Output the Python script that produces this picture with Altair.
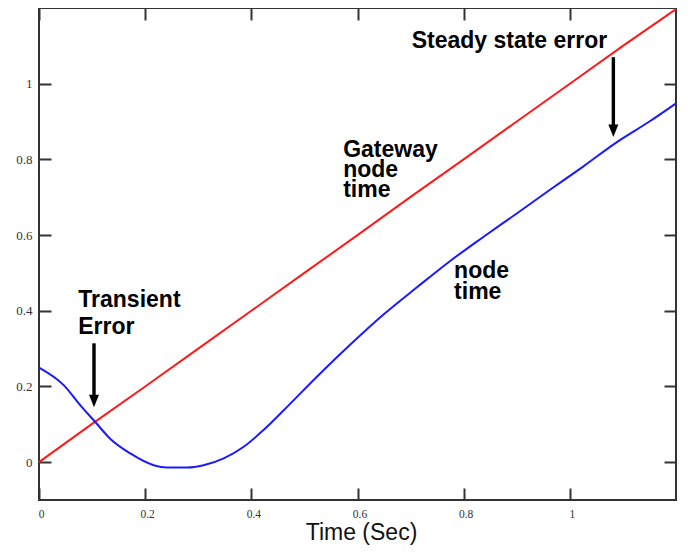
import altair as alt
import pandas as pd

# ---- data ----
red_t = [0.0, 0.1, 0.2, 0.3, 0.4, 0.5, 0.6, 0.7, 0.8, 0.9, 1.0, 1.1, 1.2]
red_v = [0.0, 0.101, 0.2, 0.3, 0.4, 0.5, 0.6, 0.701, 0.8, 0.9, 1.0, 1.1, 1.197]

blue_t = [0.0, 0.047, 0.078, 0.106, 0.134, 0.172, 0.216, 0.241, 0.279, 0.31,
          0.348, 0.385, 0.423, 0.461, 0.523, 0.586, 0.649, 0.712, 0.774, 0.837,
          0.9, 0.962, 1.025, 1.088, 1.15, 1.2]
blue_v = [0.25, 0.203, 0.15, 0.106, 0.062, 0.023, -0.008, -0.014, -0.014, -0.008,
          0.01, 0.04, 0.085, 0.137, 0.225, 0.31, 0.39, 0.462, 0.531, 0.595,
          0.657, 0.719, 0.781, 0.845, 0.900, 0.948]

note_text = ["Transient", "Error", "Gateway", "node", "time", "node", "time",
             "Steady state error"]
note_x = [0.074, 0.074, 0.573, 0.573, 0.573, 0.782, 0.782, 0.702]
note_y = [0.411, 0.339, 0.805, 0.753, 0.700, 0.486, 0.431, 1.093]

arrow_x = [0.1036, 1.082]
arrow_start = [0.314, 1.07]
arrow_tip = [0.145, 0.859]

x_ticks = [0, 0.2, 0.4, 0.6, 0.8, 1.0]
y_ticks = [0, 0.2, 0.4, 0.6, 0.8, 1.0]

red_df = pd.DataFrame({"t": red_t, "v": red_v})
blue_df = pd.DataFrame({"t": blue_t, "v": blue_v})
note_df = pd.DataFrame({"x": note_x, "y": note_y, "label": note_text})
arrow_df = pd.DataFrame({"x": arrow_x, "start": arrow_start, "tip": arrow_tip})

W, H = 637, 492
xs = alt.Scale(domain=[0, 1.2], nice=False, zero=False)
ys = alt.Scale(domain=[-0.1, 1.2], nice=False, zero=False)

x_label_axis = alt.Axis(
    values=x_ticks, format="~g", ticks=False, tickSize=0, domain=False, grid=False,
    labelFont="Liberation Serif", labelFontSize=11.5, labelColor="#333",
    labelPadding=8, labelOffset=2, labelFlush=False,
    titleFont="Liberation Sans", titleFontSize=23, titleFontWeight="normal",
    titleColor="#111", titleX=322, titleY=39, titleAlign="center",
    titleBaseline="alphabetic",
)
y_label_axis = alt.Axis(
    values=y_ticks, format="~g", ticks=False, tickSize=0, domain=False, grid=False,
    labelFont="Liberation Serif", labelFontSize=13, labelColor="#333",
    labelPadding=7, labelFlush=False,
)


def tick_axis(orient, offset, vals):
    return alt.Axis(
        orient=orient, offset=offset, values=vals, labels=False, ticks=True,
        tickSize=12, tickWidth=2, tickColor="#333", domain=False, grid=False,
    )


red = alt.Chart(red_df).mark_line(color="#ff1a1a", strokeWidth=2).encode(
    x=alt.X("t:Q", scale=xs, axis=x_label_axis, title="Time (Sec)"),
    y=alt.Y("v:Q", scale=ys, axis=y_label_axis, title=None),
)

blue = alt.Chart(blue_df).mark_line(
    color="#1a1aff", strokeWidth=2, interpolate="monotone"
).encode(
    x=alt.X("t:Q", scale=xs, axis=tick_axis("top", -H, x_ticks), title=None),
    y=alt.Y("v:Q", scale=ys, axis=tick_axis("right", -W, y_ticks), title=None),
)

notes = alt.Chart(note_df).mark_text(
    align="left", baseline="alphabetic", font="Liberation Sans", fontSize=23,
    fontWeight="bold", color="black",
).encode(
    x=alt.X("x:Q", scale=xs, axis=tick_axis("bottom", -H, x_ticks), title=None),
    y=alt.Y("y:Q", scale=ys, axis=tick_axis("left", -W, y_ticks), title=None),
    text="label:N",
)

shafts = alt.Chart(arrow_df).transform_calculate(
    shaft_end="datum.tip + 0.015"
).mark_rule(color="black", strokeWidth=3.4).encode(
    x=alt.X("x:Q", scale=xs, axis=None),
    y=alt.Y("start:Q", scale=ys, axis=None),
    y2="shaft_end:Q",
)

heads = alt.Chart(arrow_df).mark_point(
    shape="M-1,-2.5L1,-2.5L0,0Z", size=100, filled=True, color="black", opacity=1
).encode(
    x=alt.X("x:Q", scale=xs, axis=None),
    y=alt.Y("tip:Q", scale=ys, axis=None),
)

chart = alt.layer(red, blue, notes, shafts, heads).resolve_axis(
    x="independent", y="independent"
).properties(
    width=W, height=H,
    padding={"left": 31, "top": 0, "right": 8, "bottom": 46},
    autosize=alt.AutoSizeParams(type="none"),
).configure_view(stroke="#333", strokeWidth=2)

chart.save("out.html", embed_options={"renderer": "svg", "actions": False})
